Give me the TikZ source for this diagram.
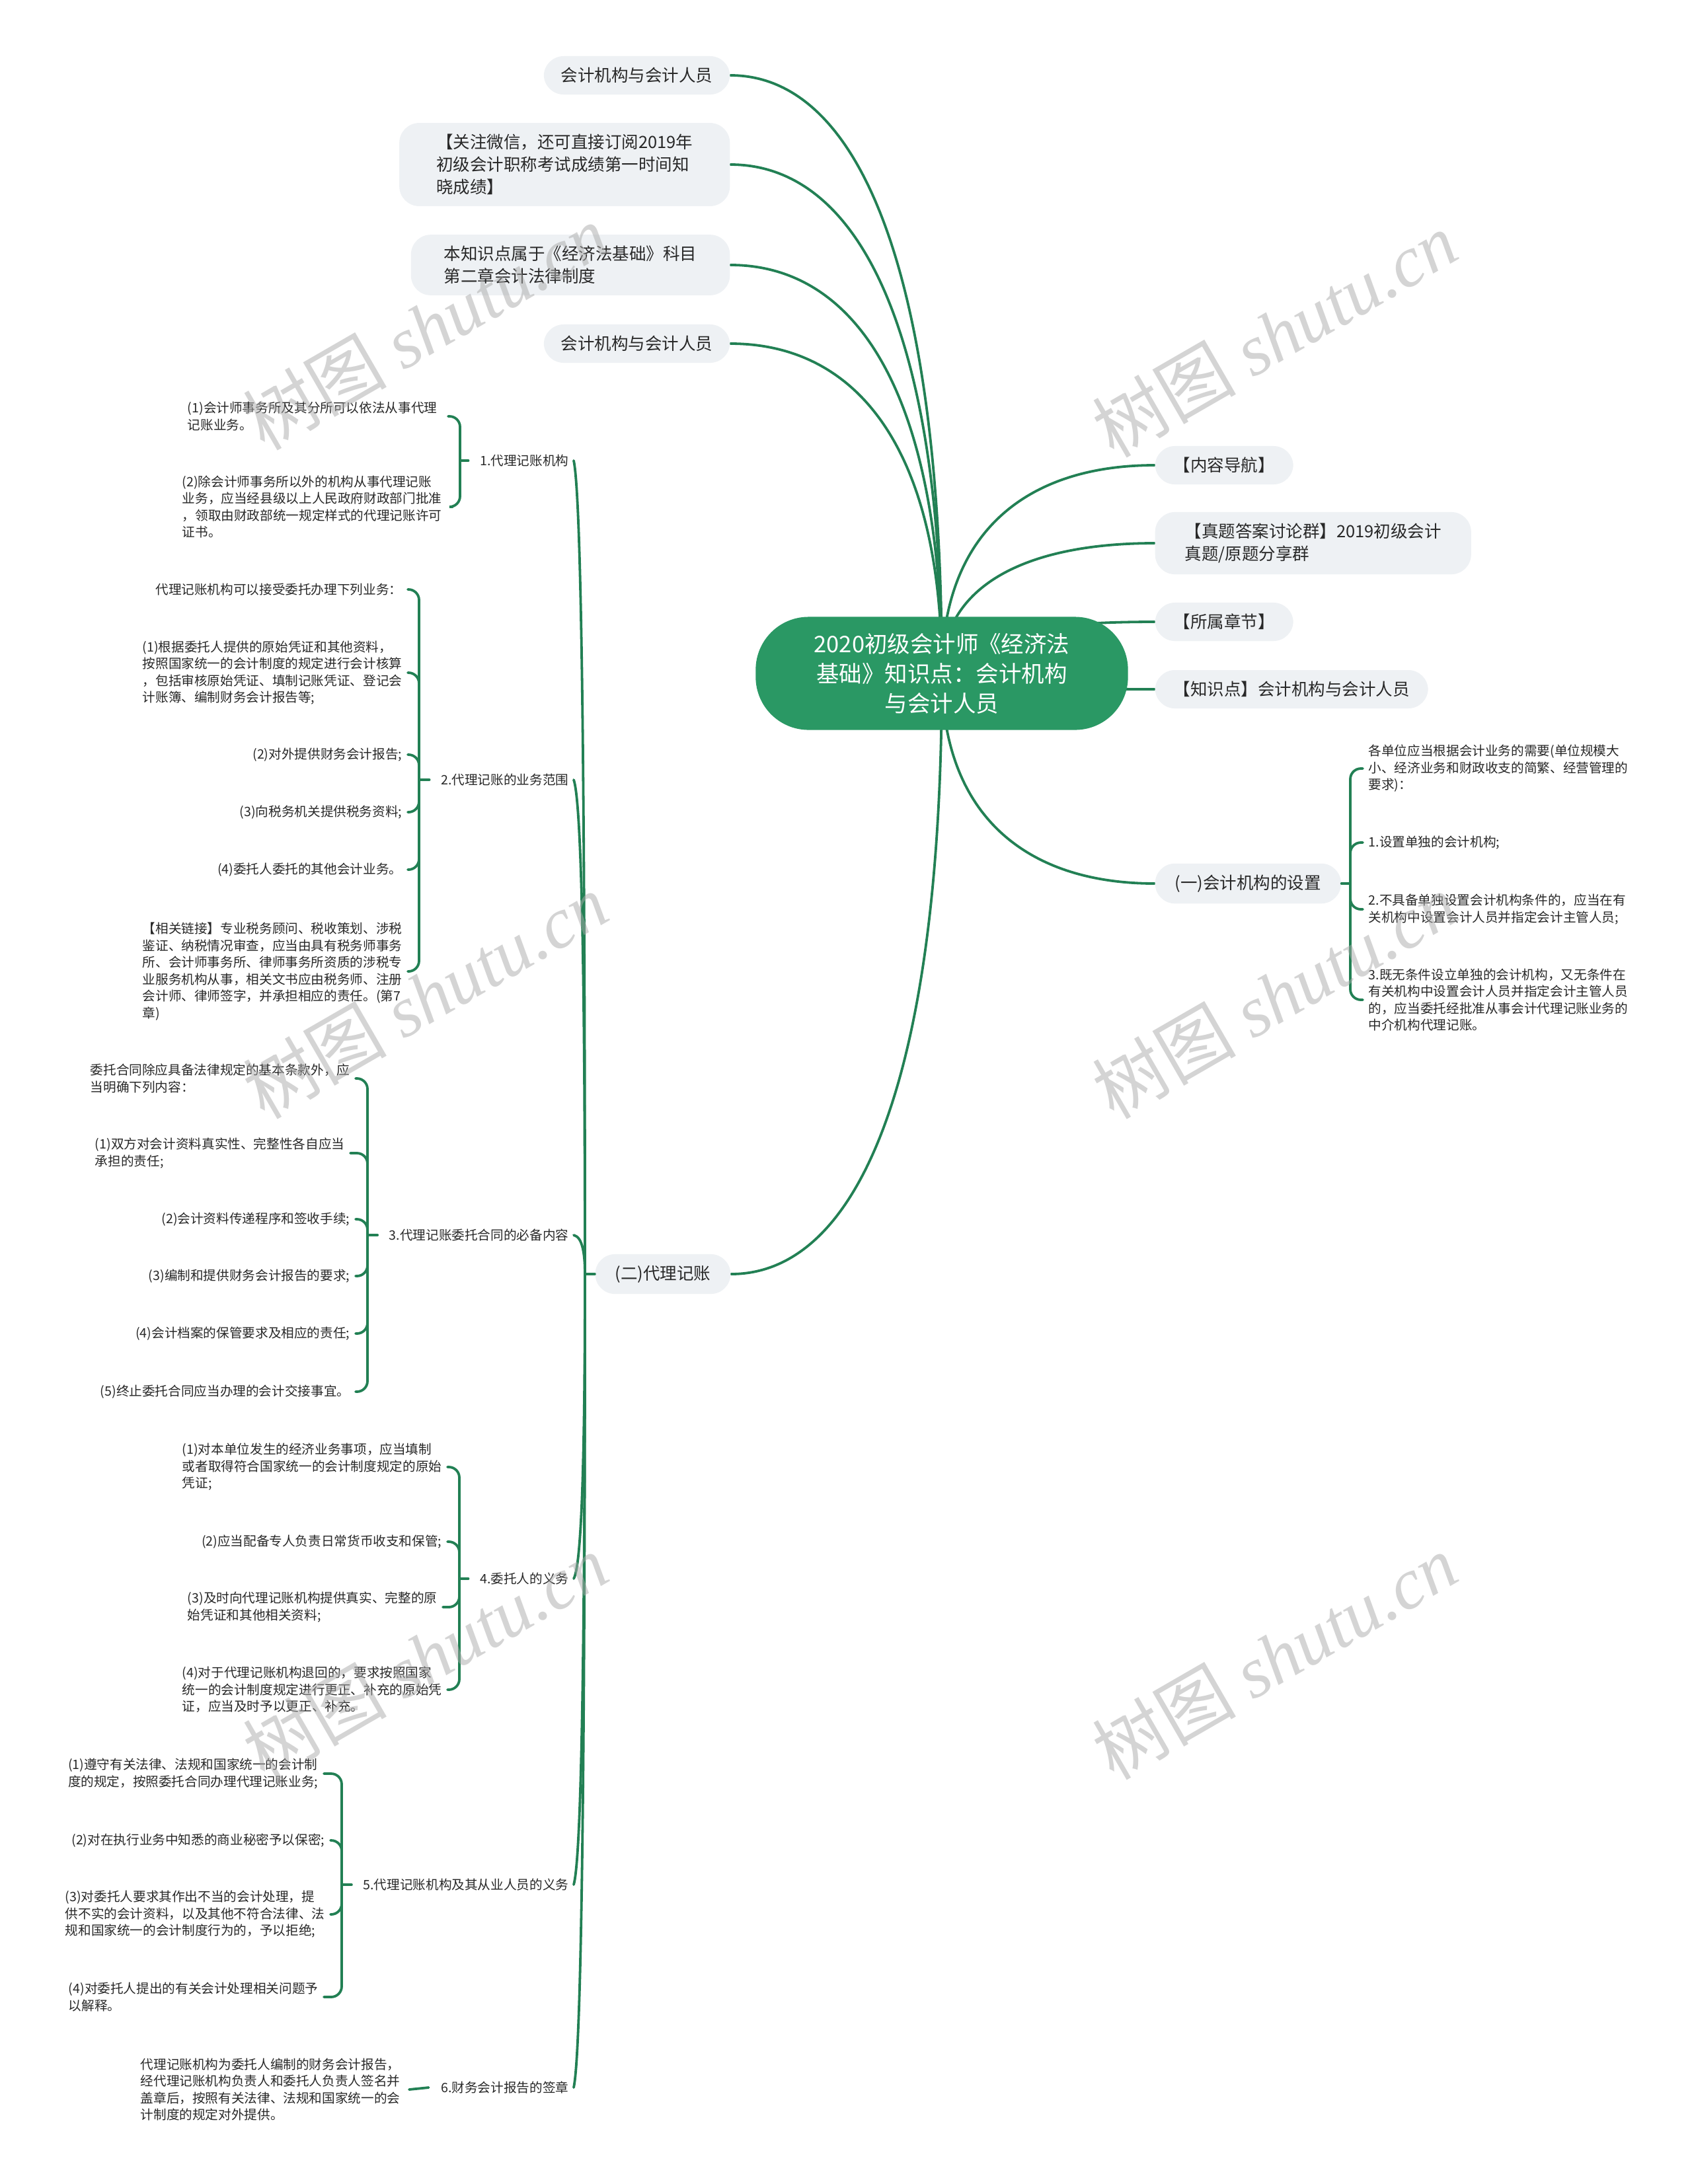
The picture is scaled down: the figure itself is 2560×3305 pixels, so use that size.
\documentclass[tikz,border=0pt]{standalone}
\usepackage{fontspec}
\setmainfont{Noto Sans CJK SC}
\newfontfamily\wmlatin{Liberation Serif}
\usetikzlibrary{calc}
\definecolor{lineg}{RGB}{34,128,84}
\definecolor{maing}{RGB}{42,152,100}
\definecolor{pillg}{RGB}{238,241,244}
\definecolor{txt}{RGB}{40,40,40}
\definecolor{wmgray}{RGB}{170,170,170}
\pgfdeclarelayer{bg}
\pgfsetlayers{bg,main}
\tikzset{
  conn/.style={draw=lineg,line width=0.038cm,line cap=round},
  brk/.style={conn,rounded corners=0.16cm},
  pill/.style={fill=pillg,rounded corners=0.3cm,text=txt,font=\fontsize{7.25}{9.67}\selectfont,align=left,inner ysep=0.17cm,inner xsep=0.28cm},
  pill1/.style={pill,minimum height=0.58cm},
  mainnode/.style={fill=maing,rounded corners=0.8cm,text=white,font=\fontsize{9.8}{12.8}\selectfont,align=center,minimum width=5.63cm,minimum height=1.71cm},
  leaf/.style={text=txt,font=\fontsize{5.58}{7.25}\selectfont,align=left,inner sep=0.08cm,anchor=east},
  rleaf/.style={leaf,anchor=west},
  lbl/.style={text=txt,font=\fontsize{5.58}{7.25}\selectfont,inner sep=0.05cm,anchor=east},
  wm/.style={text=wmgray,opacity=0.5,rotate=30,font=\fontsize{31}{31}\selectfont}
}
\newcommand\mmconn[2]{\draw[conn] let \p1=(#1), \p2=(#2) in (\p1) .. controls ({\x1+0.6*(\x2-\x1)},\y1) and (\x2,{\y1+0.32*(\y2-\y1)}) .. (\p2);}
\newcommand\trconn[2]{\draw[conn] let \p1=(#1), \p2=(#2) in (\p1) .. controls ({\x1+0.8*(\x2-\x1)},{\y1+0.05*(\y2-\y1)}) and (\x2,{\y1+0.5*(\y2-\y1)}) .. (\p2);}
\begin{document}
\begin{tikzpicture}[x=0.01cm,y=-0.01cm]
\useasboundingbox (0,0) rectangle (2560,3305);

% central topic
\node[mainnode] (c) at (1425,1019) {2020初级会计师《经济法\\基础》知识点：会计机构\\与会计人员};

% left top pills
\node[pill1,anchor=east,inner xsep=0.26cm] (p1) at (1105,114) {会计机构与会计人员};
\node[pill,anchor=east,inner xsep=0.56cm] (p2) at (1105,249) {【关注微信，还可直接订阅2019年\\初级会计职称考试成绩第一时间知\\晓成绩】};
\node[pill,anchor=east,inner xsep=0.5cm] (p3) at (1105,401) {本知识点属于《经济法基础》科目\\第二章会计法律制度};
\node[pill1,anchor=east,inner xsep=0.26cm] (p4) at (1105,520) {会计机构与会计人员};

% right pills
\node[pill1,anchor=west] (q1) at (1747,704) {【内容导航】};
\node[pill,anchor=west,inner xsep=0.45cm] (q2) at (1747,822) {【真题答案讨论群】2019初级会计\\真题/原题分享群};
\node[pill1,anchor=west] (q3) at (1747,941) {【所属章节】};
\node[pill1,anchor=west] (q4) at (1747,1043) {【知识点】会计机构与会计人员};
\node[pill1,anchor=west,inner xsep=0.3cm] (n1) at (1747,1337) {(一)会计机构的设置};
\node[pill1,anchor=east,inner xsep=0.3cm] (n2) at (1106,1928) {(二)代理记账};

% right group leaves
\coordinate (b9) at (2043,1337);
\node[rleaf] (r1) at (2062,1163) {各单位应当根据会计业务的需要(单位规模大\\小、经济业务和财政收支的简繁、经营管理的\\要求)：};
\node[rleaf] (r2) at (2062,1275) {1.设置单独的会计机构;};
\node[rleaf] (r3) at (2062,1376) {2.不具备单独设置会计机构条件的，应当在有\\关机构中设置会计人员并指定会计主管人员;};
\node[rleaf] (r4) at (2062,1513) {3.既无条件设立单独的会计机构，又无条件在\\有关机构中设置会计人员并指定会计主管人员\\的，应当委托经批准从事会计代理记账业务的\\中介机构代理记账。};

% level-2 labels under (二)
\coordinate (tj) at (885,1928);
\node[lbl] (l1) at (866,697) {1.代理记账机构};
\node[lbl] (l2) at (866,1180) {2.代理记账的业务范围};
\node[lbl] (l3) at (866,1869) {3.代理记账委托合同的必备内容};
\node[lbl] (l4) at (866,2389) {4.委托人的义务};
\node[lbl] (l5) at (866,2852) {5.代理记账机构及其从业人员的义务};
\node[lbl] (l6) at (866,3159) {6.财务会计报告的签章};

% group 1
\coordinate (b1) at (696,697);
\node[leaf] (c11) at (670,630) {(1)会计师事务所及其分所可以依法从事代理\\记账业务。};
\node[leaf] (c12) at (677,767) {(2)除会计师事务所以外的机构从事代理记账\\业务，应当经县级以上人民政府财政部门批准\\，领取由财政部统一规定样式的代理记账许可\\证书。};

% group 2
\coordinate (b2) at (634,1180);
\node[leaf] (c21) at (617,892) {代理记账机构可以接受委托办理下列业务：};
\node[leaf] (c22) at (617,1018) {(1)根据委托人提供的原始凭证和其他资料，\\按照国家统一的会计制度的规定进行会计核算\\，包括审核原始凭证、填制记账凭证、登记会\\计账簿、编制财务会计报告等;};
\node[leaf] (c23) at (617,1142) {(2)对外提供财务会计报告;};
\node[leaf] (c24) at (617,1229) {(3)向税务机关提供税务资料;};
\node[leaf] (c25) at (617,1316) {(4)委托人委托的其他会计业务。};
\node[leaf] (c26) at (617,1470) {【相关链接】专业税务顾问、税收策划、涉税\\鉴证、纳税情况审查，应当由具有税务师事务\\所、会计师事务所、律师事务所资质的涉税专\\业服务机构从事，相关文书应由税务师、注册\\会计师、律师签字，并承担相应的责任。(第7\\章)};

% group 3
\coordinate (b3) at (556,1869);
\node[leaf] (c31) at (538,1632) {委托合同除应具备法律规定的基本条款外，应\\当明确下列内容：};
\node[leaf] (c32) at (530,1745) {(1)双方对会计资料真实性、完整性各自应当\\承担的责任;};
\node[leaf] (c33) at (538,1845) {(2)会计资料传递程序和签收手续;};
\node[leaf] (c34) at (538,1931) {(3)编制和提供财务会计报告的要求;};
\node[leaf] (c35) at (538,2018) {(4)会计档案的保管要求及相应的责任;};
\node[leaf] (c36) at (538,2106) {(5)终止委托合同应当办理的会计交接事宜。};

% group 4
\coordinate (b4) at (695,2389);
\node[leaf] (c41) at (677,2220) {(1)对本单位发生的经济业务事项，应当填制\\或者取得符合国家统一的会计制度规定的原始\\凭证;};
\node[leaf] (c42) at (677,2333) {(2)应当配备专人负责日常货币收支和保管;};
\node[leaf] (c43) at (670,2432) {(3)及时向代理记账机构提供真实、完整的原\\始凭证和其他相关资料;};
\node[leaf] (c44) at (677,2557) {(4)对于代理记账机构退回的，要求按照国家\\统一的会计制度规定进行更正、补充的原始凭\\证，应当及时予以更正、补充。};

% group 5
\coordinate (b5) at (517,2852);
\node[leaf] (c51) at (490,2684) {(1)遵守有关法律、法规和国家统一的会计制\\度的规定，按照委托合同办理代理记账业务;};
\node[leaf] (c52) at (500,2785) {(2)对在执行业务中知悉的商业秘密予以保密;};
\node[leaf] (c53) at (500,2897) {(3)对委托人要求其作出不当的会计处理，提\\供不实的会计资料，以及其他不符合法律、法\\规和国家统一的会计制度行为的，予以拒绝;};
\node[leaf] (c54) at (490,3022) {(4)对委托人提出的有关会计处理相关问题予\\以解释。};

% group 6
\node[leaf] (c61) at (614,3162) {代理记账机构为委托人编制的财务会计报告，\\经代理记账机构负责人和委托人负责人签名并\\盖章后，按照有关法律、法规和国家统一的会\\计制度的规定对外提供。};

\begin{pgfonlayer}{bg}
  \fill[white] (0,0) rectangle (2560,3305);
  % from central topic
  \mmconn{p1.east}{c.center}
  \mmconn{p2.east}{c.center}
  \mmconn{p3.east}{c.center}
  \mmconn{p4.east}{c.center}
  \mmconn{q1.west}{c.center}
  \mmconn{q2.west}{c.center}
  \mmconn{q3.west}{c.center}
  \mmconn{q4.west}{c.center}
  \mmconn{n1.west}{c.center}
  \mmconn{n2.east}{c.center}
\end{pgfonlayer}

% right bracket
\draw[conn] (n1.east) -- (b9);
\foreach \k in {r1,r2,r3,r4} \draw[brk] (b9) |- (\k.west);

% trunk under (二)
\draw[conn] (n2.west) -- (tj);
\trconn{[xshift=0.02cm]l1.east}{tj}
\trconn{[xshift=0.02cm]l2.east}{tj}
\trconn{[xshift=0.02cm]l3.east}{tj}
\trconn{[xshift=0.02cm]l4.east}{tj}
\trconn{[xshift=0.02cm]l5.east}{tj}
\trconn{[xshift=0.02cm]l6.east}{tj}

% brackets
\draw[conn] (b1) -- ([xshift=-0.12cm]l1.west);
\foreach \k in {c11,c12} \draw[brk] (b1) |- ([xshift=0.08cm]\k.east);
\draw[conn] (b2) -- ([xshift=-0.12cm]l2.west);
\foreach \k in {c21,c22,c23,c24,c25,c26} \draw[brk] (b2) |- (\k.east);
\draw[conn] (b3) -- ([xshift=-0.12cm]l3.west);
\foreach \k in {c31,c32,c33,c34,c35,c36} \draw[brk] (b3) |- (\k.east);
\draw[conn] (b4) -- ([xshift=-0.12cm]l4.west);
\foreach \k in {c41,c42,c43,c44} \draw[brk] (b4) |- (\k.east);
\draw[conn] (b5) -- ([xshift=-0.12cm]l5.west);
\foreach \k in {c51,c52,c53,c54} \draw[brk] (b5) |- (\k.east);
\draw[conn] ([xshift=0.05cm]c61.east) -- ([xshift=-0.13cm]l6.west);

% watermarks
\node[wm] (w1) at (643,495) {树图 {\wmlatin\itshape shutu.cn}};
\node[wm] (w2) at (1928,506) {树图 {\wmlatin\itshape shutu.cn}};
\node[wm] (w3) at (643,1507) {树图 {\wmlatin\itshape shutu.cn}};
\node[wm] (w4) at (1928,1507) {树图 {\wmlatin\itshape shutu.cn}};
\node[wm] (w5) at (643,2507) {树图 {\wmlatin\itshape shutu.cn}};
\node[wm] (w6) at (1928,2507) {树图 {\wmlatin\itshape shutu.cn}};
\end{tikzpicture}
\end{document}
